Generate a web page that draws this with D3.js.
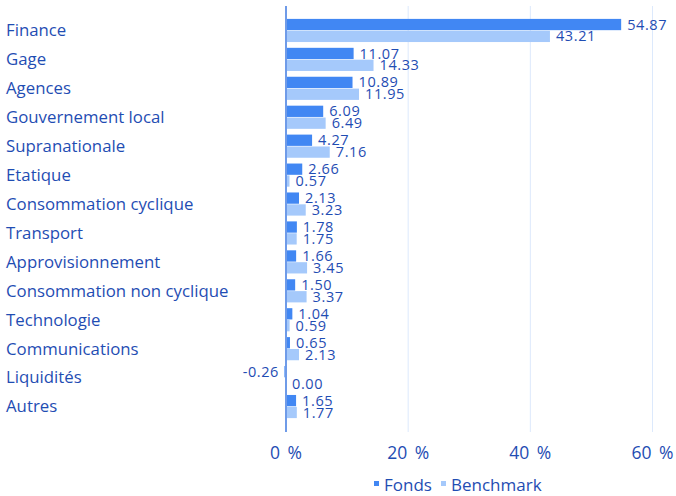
<!DOCTYPE html>
<html>
<head>
<meta charset="utf-8">
<script src="https://cdn.jsdelivr.net/npm/d3@7"></script>
<style>
  body { margin: 0; background: #fff; }
  svg { display: block; font-family: "Open Sans", sans-serif; }
</style>
</head>
<body>
<div id="chart"></div>
<script>
let categories = ["Finance", "Gage", "Agences", "Gouvernement local", "Supranationale", "Etatique",
  "Consommation cyclique", "Transport", "Approvisionnement", "Consommation non cyclique",
  "Technologie", "Communications", "Liquidités", "Autres"];
let fonds = [54.87, 11.07, 10.89, 6.09, 4.27, 2.66, 2.13, 1.78, 1.66, 1.50, 1.04, 0.65, -0.26, 1.65];
let benchmark = [43.21, 14.33, 11.95, 6.49, 7.16, 0.57, 3.23, 1.75, 3.45, 3.37, 0.59, 2.13, 0.00, 1.77];
let seriesNames = ["Fonds", "Benchmark"];
let ticks = [0, 20, 40, 60];

let width = 676, height = 496;
let colors = ["#4187f3", "#a5c9fb"];
let textColor = "#1f4db3";

let data = categories.map((c, i) => ({name: c, values: [fonds[i], benchmark[i]]}));

let fmt = v => (v < 0 ? "-" : "") + Math.abs(v).toFixed(2);

let x = d3.scaleLinear()
    .domain([0, 60])
    .range([286, 652.5]);

let y = d3.scaleBand()
    .domain(categories)
    .range([16, 421])
    .paddingInner(0.2)
    .paddingOuter(0.1);

let ySub = d3.scaleBand()
    .domain(seriesNames)
    .range([0, y.bandwidth()])
    .paddingInner(0.05);

let svg = d3.select("#chart")
    .append("svg")
    .attr("width", width)
    .attr("height", height);

// grid lines
svg.append("g")
    .selectAll("line")
    .data(ticks.filter(t => t > 0))
    .join("line")
    .attr("x1", d => x(d))
    .attr("x2", d => x(d))
    .attr("y1", 6)
    .attr("y2", 432)
    .attr("stroke", "#dce9fc")
    .attr("stroke-width", 1);

// category labels
svg.append("g")
    .attr("fill", textColor)
    .attr("font-size", 16.8)
    .selectAll("text")
    .data(categories)
    .join("text")
    .attr("x", 6)
    .attr("y", d => y(d) + y.bandwidth() / 2)
    .attr("dy", "0.35em")
    .text(d => d);

// bars
let groups = svg.append("g")
    .selectAll("g")
    .data(data)
    .join("g")
    .attr("transform", d => `translate(0,${y(d.name)})`);

groups.selectAll("rect")
    .data(d => d.values.map((v, i) => ({key: seriesNames[i], value: v, i})))
    .join("rect")
    .attr("x", d => x(Math.min(0, d.value)))
    .attr("y", d => ySub(d.key))
    .attr("width", d => Math.abs(x(d.value) - x(0)))
    .attr("height", ySub.bandwidth())
    .attr("fill", d => colors[d.i]);

groups.selectAll("text")
    .data(d => d.values.map((v, i) => ({key: seriesNames[i], value: v, i})))
    .join("text")
    .attr("fill", textColor)
    .attr("font-size", 14.5)
    .attr("letter-spacing", 0.6)
    .attr("text-anchor", d => d.value < 0 ? "end" : "start")
    .attr("x", d => d.value < 0 ? x(0) - 7 : x(d.value) + 6)
    .attr("y", d => ySub(d.key) + ySub.bandwidth() / 2)
    .attr("dy", "0.35em")
    .text(d => fmt(d.value));

// zero axis line
svg.append("line")
    .attr("x1", x(0))
    .attr("x2", x(0))
    .attr("y1", 6)
    .attr("y2", 432)
    .attr("stroke", "#6f9be8")
    .attr("stroke-width", 2);

// x axis labels
svg.append("g")
    .attr("fill", textColor)
    .attr("font-size", 17.5)
    .attr("text-anchor", "middle")
    .attr("word-spacing", 3)
    .selectAll("text")
    .data(ticks)
    .join("text")
    .attr("x", d => x(d))
    .attr("y", 459)
    .text(d => d + " %");

// legend
let legend = svg.append("g")
    .attr("font-size", 17)
    .attr("fill", textColor);
let legendX = [374, 441];
seriesNames.forEach((s, i) => {
  legend.append("rect")
    .attr("x", legendX[i])
    .attr("y", 481)
    .attr("width", 5)
    .attr("height", 5)
    .attr("fill", colors[i]);
  legend.append("text")
    .attr("x", legendX[i] + 10)
    .attr("y", 491)
    .text(s);
});
</script>
</body>
</html>
